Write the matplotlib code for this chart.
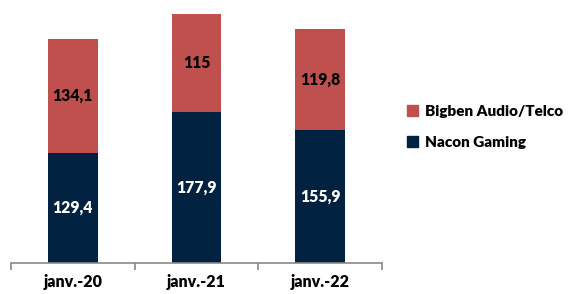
import matplotlib
matplotlib.use("Agg")
import matplotlib.pyplot as plt
from matplotlib.patches import Patch

categories = ["janv.-20", "janv.-21", "janv.-22"]
nacon = [129.4, 177.9, 155.9]
bigben = [134.1, 115.0, 119.8]
nacon_labels = ["129,4", "177,9", "155,9"]
bigben_labels = ["134,1", "115", "119,8"]

navy = "#00213F"
red = "#C0504D"

plt.rcParams['font.family'] = ['Lato', 'DejaVu Sans']
W = 800

fig = plt.figure(figsize=(5.72, 2.94), dpi=100)
ax = fig.add_axes([11/572, 1 - 263/294, (382-11)/572, 263/294])

x = list(range(len(categories)))
w = 0.4
ax.bar(x, nacon, width=w, color=navy)
ax.bar(x, bigben, width=w, bottom=nacon, color=red)

for i in x:
    ax.text(i, nacon[i]/2, nacon_labels[i], ha='center', va='center', color='white',
            fontsize=11.3, fontweight=W)
    ax.text(i, nacon[i] + bigben[i]/2, bigben_labels[i], ha='center', va='center', color='black',
            fontsize=11.3, fontweight=W)

ax.set_xlim(-0.5, 2.5)
ax.set_ylim(0, 309.4)
for s in ['top', 'right', 'left']:
    ax.spines[s].set_visible(False)
ax.spines['bottom'].set_color('#898989')
ax.spines['bottom'].set_linewidth(1.2)
ax.set_yticks([])
ax.set_xticks([-0.5, 0.5, 1.5, 2.5])
ax.set_xticklabels([])
ax.set_xticks(x, minor=True)
ax.set_xticklabels(categories, minor=True, fontsize=11.5, fontweight=W)
ax.tick_params(axis='x', which='major', length=5, color='#898989', width=1.2, direction='out')
ax.tick_params(axis='x', which='minor', length=0, pad=8)

handles = [Patch(color=red, label='Bigben Audio/Telco'), Patch(color=navy, label='Nacon Gaming')]
fig.legend(handles=handles, loc='center left', bbox_to_anchor=(407/572, 1 - 127/294),
           frameon=False, handlelength=0.7, handleheight=0.7, borderpad=0, borderaxespad=0,
           handletextpad=0.45, labelspacing=1.2, prop={'weight': W, 'size': 11})

fig.savefig("out.png", dpi=100)
